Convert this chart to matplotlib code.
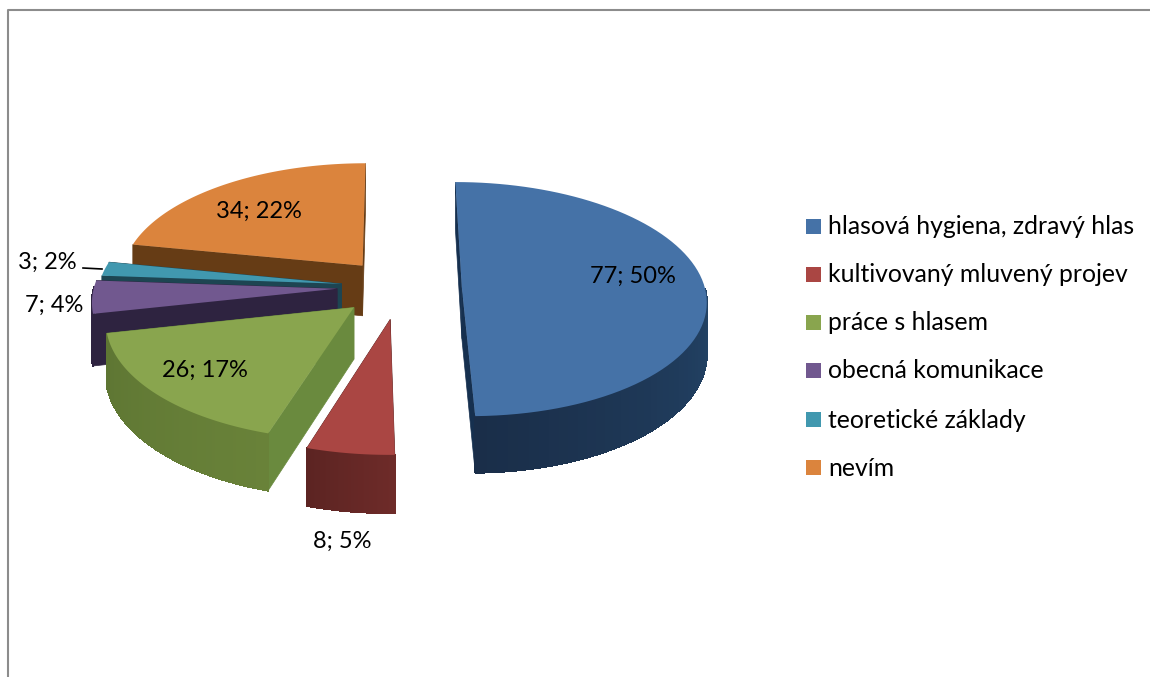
import numpy as np
import matplotlib
matplotlib.use('Agg')
import matplotlib.pyplot as plt
from matplotlib.colors import to_rgb

# data
categories = ['hlasová hygiena, zdravý hlas', 'kultivovaný mluvený projev', 'práce s hlasem',
              'obecná komunikace', 'teoretické základy', 'nevím']
counts = [77, 8, 26, 7, 3, 34]
percents = [50, 5, 17, 4, 2, 22]

# styles
top_colors = ['#4572A7', '#AA4643', '#89A54E', '#71588F', '#4198AF', '#DB843D']
wall_light = ['#234467', '#6E2B29', '#698239', '#2E2340', '#1D4552', '#663C15']
wall_dark = ['#1A2E49', '#5C2422', '#5E7633', '#2E2340', '#1D4552', '#663C15']
face_colors = ['#16304F', '#5C2422', '#6A8A3E', '#2E2340', '#1D4552', '#663C15']
explode = [0.30, 0.25, 0.22, 0.21, 0.21, 0.22]
nudge_x = [-3, 7, 2, -4, 0, 4]
nudge_y = [3, 5, 5, 2, 2, 0]
draw_order = [5, 4, 3, 2, 1, 0]

# projection of the tilted pie onto the picture (pixels)
CX, CY = 392, 285
RX, RY = 243, 116
K = 0.098
DEPTH = 51


def project(x, y, z=0.0):
    s = 1 / (1 + K * y)
    return CX + RX * x * s, CY - RY * y * s + DEPTH * z * s


def shade(c1, c2, t):
    a, b = np.array(to_rgb(c1)), np.array(to_rgb(c2))
    return tuple(a + (b - a) * t)


fig = plt.figure(figsize=(11.5, 6.77), dpi=100)
ax = fig.add_axes([0, 0, 1, 1])
ax.set_xlim(0, 1150)
ax.set_ylim(677, 0)
ax.axis('off')
plt.rcParams['font.family'] = ['Lato', 'DejaVu Sans']

# frame of the chart area
ax.plot([8, 8, 1150], [677, 10, 10], color='#8c8c8c', lw=1.5, zorder=1)

# angles from the values, clockwise from the top
total = sum(counts)
fractions = np.array(counts) / total
ends = 90 - np.cumsum(fractions) * 360
starts = ends + fractions * 360

z = 2
for i in draw_order:
    mid = np.radians((starts[i] + ends[i]) / 2)
    ax0 = explode[i] * np.cos(mid)
    ay0 = explode[i] * np.sin(mid)
    t = np.radians(np.linspace(starts[i], ends[i], 80))
    xs = ax0 + np.cos(t)
    ys = ay0 + np.sin(t)
    dx, dy = nudge_x[i], nudge_y[i]

    # two cut faces
    for xe, ye in [(xs[0], ys[0]), (xs[-1], ys[-1])]:
        p1, p2 = project(ax0, ay0), project(xe, ye)
        p3, p4 = project(xe, ye, 1), project(ax0, ay0, 1)
        ax.fill(np.array([p1[0], p2[0], p3[0], p4[0]]) + dx, np.array([p1[1], p2[1], p3[1], p4[1]]) + dy,
                color=face_colors[i], lw=0.5, zorder=z)
    z += 1

    # outer wall, only the part facing the viewer
    front = np.sin(t) < 0.02
    if front.sum() > 1:
        xf, yf = xs[front], ys[front]
        tx, ty = project(xf, yf)
        bx, by = project(xf, yf, 1)
        ax.fill(np.r_[tx, bx[::-1]] + dx, np.r_[ty, by[::-1]] + dy,
                color=shade(wall_light[i], wall_dark[i], 0.5), lw=0.5, zorder=z)
        for j in range(len(xf) - 1):
            c = shade(wall_light[i], wall_dark[i], j / max(len(xf) - 2, 1))
            ax.fill(np.array([tx[j], tx[j + 1], bx[j + 1], bx[j]]) + dx,
                    np.array([ty[j], ty[j + 1], by[j + 1], by[j]]) + dy,
                    color=c, lw=0.8, antialiased=False, zorder=z)
    z += 1

    # top surface
    px, py = project(np.r_[ax0, xs], np.r_[ay0, ys])
    ax.fill(px + dx, py + dy, color=top_colors[i], lw=0, zorder=z)
    z += 1

# data labels
label_pos = [(633, 276), (342, 541), (205, 370), (54, 305), (47, 262), (259, 211)]
for n, p, (lx, ly) in zip(counts, percents, label_pos):
    ax.text(lx, ly, f'{n}; {p}%', fontsize=17, color='black', ha='center', va='center', zorder=100)
ax.plot([83, 102], [268, 269], color='black', lw=1.2, zorder=100)

# legend
legend_y = [226, 274, 322, 370, 419, 467]
for name, col, y in zip(categories, top_colors, legend_y):
    ax.fill([806, 821, 821, 806], [y - 7.5, y - 7.5, y + 7.5, y + 7.5], color=col, lw=0, zorder=100)
    ax.text(828, y + 1, name, fontsize=17.8, color='black', ha='left', va='center', zorder=100)

fig.savefig('out.png', dpi=100)
